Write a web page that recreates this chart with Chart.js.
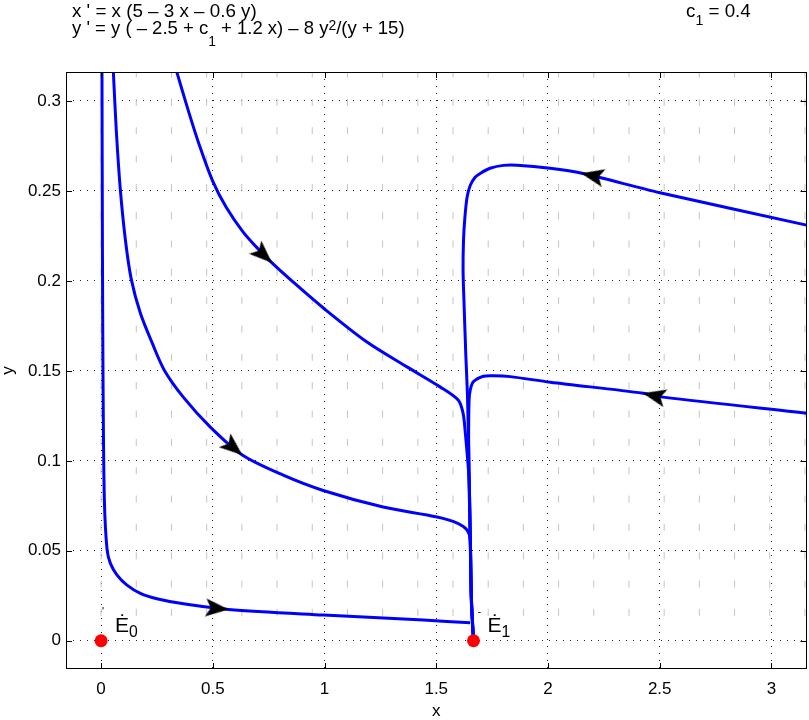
<!DOCTYPE html>
<html>
<head>
<meta charset="utf-8">
<script src="https://cdn.jsdelivr.net/npm/chart.js@4.4.0/dist/chart.umd.min.js"></script>
<style>
html, body { margin: 0; padding: 0; background: #fff; overflow: hidden; }
canvas { display: block; }
</style>
</head>
<body>
<canvas id="grafico" width="809" height="720"></canvas>
<script>
// tick degli assi
const xTicks = [0, 0.5, 1, 1.5, 2, 2.5, 3];
const yTicks = [0, 0.05, 0.1, 0.15, 0.2, 0.25, 0.3];

// traiettorie
const traj1X = [0.004, 0.006, 0.009, 0.0147, 0.0268, 0.0416, 0.0716, 0.116, 0.176, 0.250, 0.355, 0.571, 0.996, 1.443, 1.652];
const traj1Y = [0.316, 0.22, 0.14, 0.0784, 0.0506, 0.0430, 0.0365, 0.0309, 0.0263, 0.0233, 0.0208, 0.0174, 0.0143, 0.0115, 0.0100];

const traj2X = [0.055, 0.068, 0.086, 0.109, 0.135, 0.176, 0.229, 0.283, 0.368, 0.489, 0.632, 0.815, 0.994, 1.262, 1.504, 1.594, 1.638, 1.652, 1.657, 1.6667];
const traj2Y = [0.316, 0.2837, 0.251, 0.2226, 0.201, 0.182, 0.1654, 0.1504, 0.1354, 0.1187, 0.1032, 0.092, 0.0835, 0.0743, 0.0688, 0.0654, 0.0615, 0.056, 0.0226, 0];

const traj3X = [0.339, 0.390, 0.440, 0.498, 0.560, 0.636, 0.704, 0.765, 0.860, 0.996, 1.190, 1.369, 1.517, 1.599, 1.620, 1.629, 1.647, 1.652, 1.657, 1.6667];
const traj3Y = [0.316, 0.2948, 0.2754, 0.2559, 0.2409, 0.2271, 0.2176, 0.21, 0.1993, 0.1848, 0.166, 0.1522, 0.1411, 0.1337, 0.1265, 0.117, 0.089, 0.056, 0.0226, 0];

const traj4X = [3.157, 2.501, 2.152, 2.009, 1.862, 1.80, 1.741, 1.700, 1.674, 1.652, 1.638, 1.628, 1.622, 1.62, 1.624, 1.632, 1.640, 1.646, 1.652, 1.657, 1.6667];
const traj4Y = [0.231, 0.249, 0.2598, 0.2626, 0.2643, 0.2642, 0.2626, 0.260, 0.2576, 0.253, 0.2465, 0.235, 0.2226, 0.206, 0.189, 0.16, 0.135, 0.10, 0.06, 0.025, 0];

const traj5X = [3.157, 2.515, 2.426, 2.01, 1.831, 1.76, 1.711, 1.666, 1.652, 1.647, 1.645, 1.648, 1.652, 1.657, 1.6667];
const traj5Y = [0.1265, 0.1354, 0.1376, 0.1437, 0.1468, 0.1473, 0.147, 0.1439, 0.1393, 0.1337, 0.1115, 0.08, 0.06, 0.025, 0];

// punte delle frecce sulle traiettorie
const frecceX = [0.571, 0.632, 0.765, 2.148, 2.425];
const frecceY = [0.0174, 0.1032, 0.21, 0.2598, 0.1376];

// punti di equilibrio E0, E1
const equilibriX = [0, 1.6667];
const equilibriY = [0, 0];
const equilibriNomi = ['0', '1'];

// griglia del campo vettoriale
const campoX = [0, 0.1575, 0.315, 0.4725, 0.63, 0.7875, 0.945, 1.1025, 1.26, 1.4175, 1.575, 1.7325, 1.89, 2.0475, 2.205, 2.3625, 2.52, 2.6775, 2.835, 2.9925, 3.15];
const campoY = [0.01575, 0.0315, 0.04725, 0.063, 0.07875, 0.0945, 0.11025, 0.126, 0.14175, 0.1575, 0.17325, 0.189, 0.20475, 0.2205, 0.23625, 0.252, 0.26775, 0.2835, 0.29925, 0.315];

const FONT = '"Liberation Sans", Arial, Helvetica, sans-serif';

function punti(xs, ys) {
    return xs.map((x, i) => ({ x: x, y: ys[i] }));
}

var campo = [];
campoX.forEach(x => {
    campoY.forEach(y => campo.push({ x: x, y: y }));
});

// punta di freccia nera, la punta sta al centro dell'immagine
function creaFreccia() {
    const L = 23, H = 18;
    const c = document.createElement('canvas');
    c.width = 2 * L;
    c.height = H;
    const g = c.getContext('2d');
    g.fillStyle = '#000';
    g.beginPath();
    g.moveTo(L, H / 2);
    g.lineTo(0, 0);
    g.lineTo(L * 0.22, H / 2);
    g.lineTo(0, H);
    g.closePath();
    g.fill();
    return c;
}

// testo con pedici/apici
function scriviRicco(ctx, x, y, pezzi, size) {
    pezzi.forEach(p => {
        let fs = size, dy = 0;
        if (p[1] === 'sub' || p[1] === 'sup') { fs = size * 0.75; dy = p[2]; }
        ctx.font = fs + 'px ' + FONT;
        ctx.fillText(p[0], x, y + dy);
        x += ctx.measureText(p[0]).width;
    });
}

const decorazioni = {
    id: 'decorazioni',
    afterDatasetsDraw(chart) {
        const ctx = chart.ctx, a = chart.chartArea;
        const sx = chart.scales.x, sy = chart.scales.y;
        ctx.save();
        // cornice
        ctx.strokeStyle = '#000';
        ctx.lineWidth = 1;
        ctx.strokeRect(Math.round(a.left) + 0.5, Math.round(a.top) + 0.5, Math.round(a.right - a.left) - 1, Math.round(a.bottom - a.top) - 1);
        // tick verso l'interno
        ctx.beginPath();
        xTicks.forEach(v => {
            const p = Math.round(sx.getPixelForValue(v)) + 0.5;
            ctx.moveTo(p, a.bottom); ctx.lineTo(p, a.bottom - 6);
            ctx.moveTo(p, a.top); ctx.lineTo(p, a.top + 6);
        });
        yTicks.forEach(v => {
            const p = Math.round(sy.getPixelForValue(v)) + 0.5;
            ctx.moveTo(a.left, p); ctx.lineTo(a.left + 6, p);
            ctx.moveTo(a.right, p); ctx.lineTo(a.right - 6, p);
        });
        ctx.stroke();

        // etichette E0, E1
        ctx.fillStyle = '#000';
        ctx.textAlign = 'left';
        ctx.textBaseline = 'alphabetic';
        equilibriX.forEach((xv, i) => {
            const px = sx.getPixelForValue(xv);
            const py = sy.getPixelForValue(equilibriY[i]);
            ctx.font = '11px ' + FONT;
            ctx.fillText(i === 0 ? "'" : '-', px + (i === 0 ? 1 : 4), py - 26);
            scriviRicco(ctx, px + 14, py - 9, [['Ė', 'n'], [equilibriNomi[i], 'sub', 5]], 21);
        });
        ctx.restore();
    },
    afterDraw(chart) {
        const ctx = chart.ctx;
        ctx.save();
        ctx.fillStyle = '#000';
        ctx.textAlign = 'left';
        ctx.textBaseline = 'alphabetic';
        scriviRicco(ctx, 72, 17, [["x ' = x (5 \u2013 3 x \u2013 0.6 y)", 'n']], 18.8);
        scriviRicco(ctx, 72, 34, [
            ["y ' = y ( \u2013 2.5 + c", 'n'], ['1', 'sub', 12],
            [' + 1.2 x) \u2013 8 y', 'n'], ['2', 'sup', -4],
            ['/(y + 15)', 'n']
        ], 18.5);
        scriviRicco(ctx, 686, 17, [['c', 'n'], ['1', 'sub', 8], [' = 0.4', 'n']], 18.8);
        ctx.restore();
    }
};

const ctx = document.getElementById('grafico');
const grafico = new Chart(ctx, {
    type: 'scatter',
    data: {
        datasets: [
            {
                label: 'equilibri',
                data: punti(equilibriX, equilibriY),
                pointRadius: 6.5,
                pointBackgroundColor: '#ff0000',
                pointBorderWidth: 0
            },
            {
                label: 'frecce',
                data: punti(frecceX, frecceY),
                pointStyle: creaFreccia(),
                pointRotation: [5, 40, 43, 192, 193],
                pointRadius: 10
            },
            { label: 't1', data: punti(traj1X, traj1Y), showLine: true, pointRadius: 0, borderColor: '#0000ff', borderWidth: 3, tension: 0.3 },
            { label: 't2', data: punti(traj2X, traj2Y), showLine: true, pointRadius: 0, borderColor: '#0000ff', borderWidth: 3, tension: 0.3 },
            { label: 't3', data: punti(traj3X, traj3Y), showLine: true, pointRadius: 0, borderColor: '#0000ff', borderWidth: 3, tension: 0.3 },
            { label: 't4', data: punti(traj4X, traj4Y), showLine: true, pointRadius: 0, borderColor: '#0000ff', borderWidth: 3, tension: 0.3 },
            { label: 't5', data: punti(traj5X, traj5Y), showLine: true, pointRadius: 0, borderColor: '#0000ff', borderWidth: 3, tension: 0.3 },
            {
                label: 'campo',
                data: campo,
                pointStyle: 'line',
                pointRotation: 90,
                pointRadius: 3.5,
                pointBorderColor: '#c4c4c4',
                pointBorderWidth: 1
            }
        ]
    },
    options: {
        responsive: false,
        animation: false,
        devicePixelRatio: 1,
        layout: { autoPadding: false, padding: { top: 72, right: 2.5, left: 0, bottom: 0 } },
        plugins: { legend: { display: false }, tooltip: { enabled: false } },
        scales: {
            x: {
                type: 'linear',
                min: -0.157,
                max: 3.157,
                afterBuildTicks: s => { s.ticks = xTicks.map(v => ({ value: v })); },
                afterFit: s => { s.height = 51; s.paddingLeft = 0; s.paddingRight = 0; },
                grid: { color: '#222', lineWidth: 1, drawTicks: false },
                border: { display: false, dash: [1, 6] },
                ticks: { color: '#000', font: { family: FONT, size: 17 }, padding: 10, maxRotation: 0, autoSkip: false, callback: v => String(v) },
                title: { display: true, text: 'x', color: '#000', font: { family: FONT, size: 17, lineHeight: 1 }, padding: 0 }
            },
            y: {
                type: 'linear',
                min: -0.0157,
                max: 0.3161,
                afterBuildTicks: s => { s.ticks = yTicks.map(v => ({ value: v })); },
                afterFit: s => { s.width = 66; s.paddingTop = 0; s.paddingBottom = 0; },
                grid: { color: '#222', lineWidth: 1, drawTicks: false },
                border: { display: false, dash: [1, 6] },
                ticks: { color: '#000', font: { family: FONT, size: 17 }, padding: 5, autoSkip: false, callback: v => String(v) },
                title: { display: true, text: 'y', color: '#000', font: { family: FONT, size: 17, lineHeight: 1 }, padding: 0 }
            }
        }
    },
    plugins: [decorazioni]
});
</script>
</body>
</html>
